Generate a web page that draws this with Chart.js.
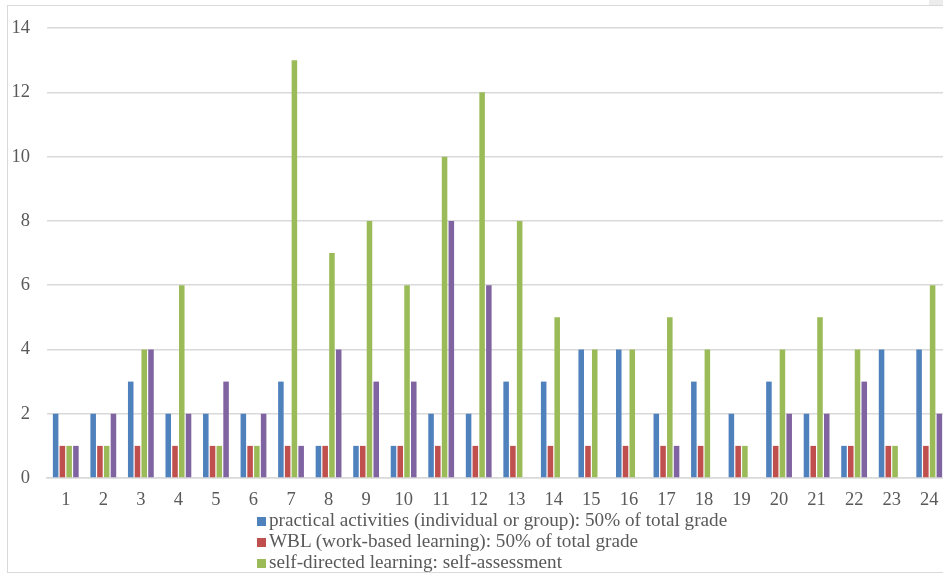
<!DOCTYPE html>
<html>
<head>
<meta charset="utf-8">
<script src="https://cdn.jsdelivr.net/npm/chart.js@4.4.1/dist/chart.umd.min.js"></script>
<style>
  html, body { margin: 0; padding: 0; background: #fff; overflow: hidden; width: 943px; height: 576px; }
  #frame { position: absolute; left: 7px; top: 5px; width: 960px; height: 566px;
    border-top: 1.5px solid #d9d9d9; border-left: 1.5px solid #d9d9d9; border-bottom: 1.5px solid #d9d9d9; }
  #corner { position: absolute; left: 929px; top: 0; width: 14px; height: 5px; background: #ececec; }
  #wrap { position: absolute; left: 0; top: 0; width: 950px; height: 576px; }
  #legend { position: absolute; left: 257px; top: 509px; font-family: "Liberation Serif", serif;
    font-size: 19.2px; color: #595959; line-height: 21px; }
  #legend div { white-space: nowrap; }
  #legend span { display: inline-block; width: 9px; height: 9px; margin-right: 3px; }
</style>
</head>
<body>
<div id="frame"></div>
<div id="corner"></div>
<div id="wrap"><canvas id="chart"></canvas></div>
<div id="legend"></div>
<script>
// ====== DATA ======
const categories = ["1","2","3","4","5","6","7","8","9","10","11","12",
  "13","14","15","16","17","18","19","20","21","22","23","24"];
const seriesLabels = [
  "practical activities (individual or group): 50% of total grade",
  "WBL (work-based learning): 50% of total grade",
  "self-directed learning: self-assessment",
  "series 4"
];
const practical = [2,2,3,2,2,2,3,1,1,1,2,2,3,3,4,4,2,3,2,3,2,1,4,4];
const wbl       = [1,1,1,1,1,1,1,1,1,1,1,1,1,1,1,1,1,1,1,1,1,1,1,1];
const selfDir   = [1,1,4,6,1,1,13,7,8,6,10,12,8,5,4,4,5,4,1,4,5,4,1,6];
const series4   = [1,2,4,2,3,2,1,4,3,3,8,6,0,0,0,0,1,0,0,2,2,3,0,2];
const yTicks = [0,2,4,6,8,10,12,14];

const colors = ["#4f81bd", "#c0504d", "#9bbb59", "#8064a2"];
const values = [practical, wbl, selfDir, series4];

// ====== CHART ======
const datasets = values.map((v, i) => ({
  label: seriesLabels[i],
  data: v,
  backgroundColor: colors[i],
  borderWidth: 0,
  categoryPercentage: 0.72,
  barPercentage: 0.82
}));

const font = { family: "'Liberation Serif', serif", size: 18.5 };

new Chart(document.getElementById("chart"), {
  type: "bar",
  data: { labels: categories, datasets },
  options: {
    responsive: true,
    maintainAspectRatio: false,
    animation: false,
    layout: { padding: { top: 22, right: 2, left: 0, bottom: 0 } },
    plugins: { legend: { display: false }, tooltip: { enabled: false } },
    scales: {
      x: {
        grid: { display: false, drawTicks: false },
        border: { display: true, color: "#d9d9d9", width: 1.5 },
        ticks: { color: "#595959", font, padding: 11, maxRotation: 0, autoSkip: false },
        afterFit: s => { s.height = 98; }
      },
      y: {
        min: 0, max: 14,
        afterBuildTicks: s => { s.ticks = yTicks.map(v => ({ value: v })); },
        grid: { color: "#d9d9d9", lineWidth: 1.5, drawTicks: false },
        border: { display: false },
        ticks: { color: "#595959", font, padding: 17 },
        afterFit: s => { s.width = 47; }
      }
    }
  }
});

// ====== LEGEND (first three entries visible) ======
const legendEl = document.getElementById("legend");
for (let i = 0; i < 3; i++) {
  const row = document.createElement("div");
  row.innerHTML = `<span style="background:${colors[i]}"></span>${seriesLabels[i]}`;
  legendEl.appendChild(row);
}
</script>
</body>
</html>
